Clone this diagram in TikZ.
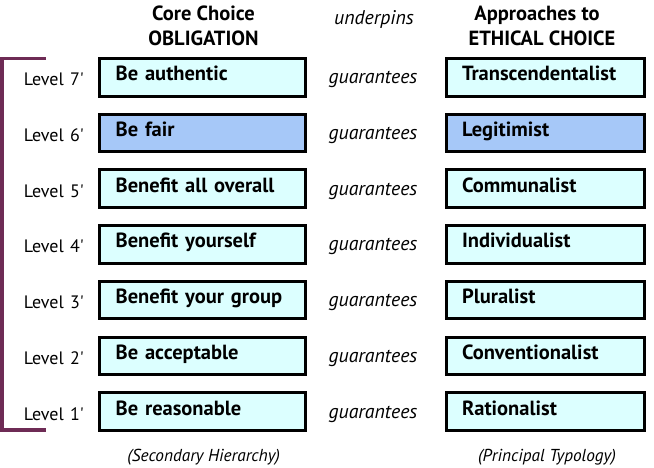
\documentclass[tikz,border=0pt]{standalone}
\usepackage{fontspec}
\setmainfont{PT Sans}
\usetikzlibrary{positioning}

\definecolor{palecyan}{HTML}{DCFFFF}
\definecolor{paleblue}{HTML}{A6C8F8}
\definecolor{bracketcol}{HTML}{6E2B55}

\tikzset{
  choicebox/.style={draw=black, line width=3pt, minimum height=37.5pt,
    inner xsep=16pt, inner ysep=0pt, align=left, text height=14pt, text depth=7pt,
    font=\bfseries\fontsize{20.5}{24}\selectfont},
  obligbox/.style={choicebox, text width=174pt},
  apprbox/.style={choicebox, text width=166.5pt},
  levellabel/.style={anchor=base east, inner sep=0pt, font=\fontsize{18}{21}\selectfont},
  linklabel/.style={anchor=base, inner sep=0pt, font=\itshape\fontsize{19.8}{23}\selectfont},
  header/.style={anchor=north, align=center, inner sep=0pt, font=\bfseries\fontsize{20.5}{25}\selectfont},
  footnote/.style={anchor=base, inner sep=0pt, font=\itshape\fontsize{17.3}{20}\selectfont}
}

\begin{document}
\begin{tikzpicture}[x=1pt, y=-1pt]
    \useasboundingbox (0,0) rectangle (654,468);

    % Headers
    \node[header] (hoblig) at (203.5,5.2) {Core Choice\\OBLIGATION};
    \node[linklabel] (hunder) at (374,25) {underpins};
    \node[header] (happr) at (542,6) {Approaches to\hspace*{10pt}\\ETHICAL CHOICE};

    % Rows: level / obligation / approach / fill
    \foreach \lev/\oblig/\appr/\fillc in {
        7/Be authentic/Transcendentalist/palecyan,
        6/Be fair/Legitimist/paleblue,
        5/Benefit all overall/Communalist/palecyan,
        4/Benefit yourself/Individualist/palecyan,
        3/Benefit your group/Pluralist/palecyan,
        2/Be acceptable/Conventionalist/palecyan,
        1/Be reasonable/Rationalist/palecyan}
    {
        \pgfmathsetmacro{\rowy}{77.3+(7-\lev)*55.7}
        \node[obligbox, fill=\fillc] (oblig\lev) at (202.7,\rowy) {\oblig};
        \node[apprbox, fill=\fillc] (appr\lev) at (545.3,\rowy) {\appr};
        \node[levellabel] (lev\lev) at (84,\rowy+8.5) {Level\hspace{0.35em}\lev\textquotesingle};
        \node[linklabel] (guar\lev) at (373,\rowy+6.5) {guarantees};
    }

    % Bracket
    \draw[bracketcol, line width=3.5pt] (46,58.5) -- (2,58.5) -- (2,430) -- (46,430);

    % Footnotes
    \node[footnote] (fsec) at (203.7,461) {(Secondary Hierarchy)};
    \node[footnote] (fprin) at (547,461) {(Principal Typology)};
\end{tikzpicture}
\end{document}
